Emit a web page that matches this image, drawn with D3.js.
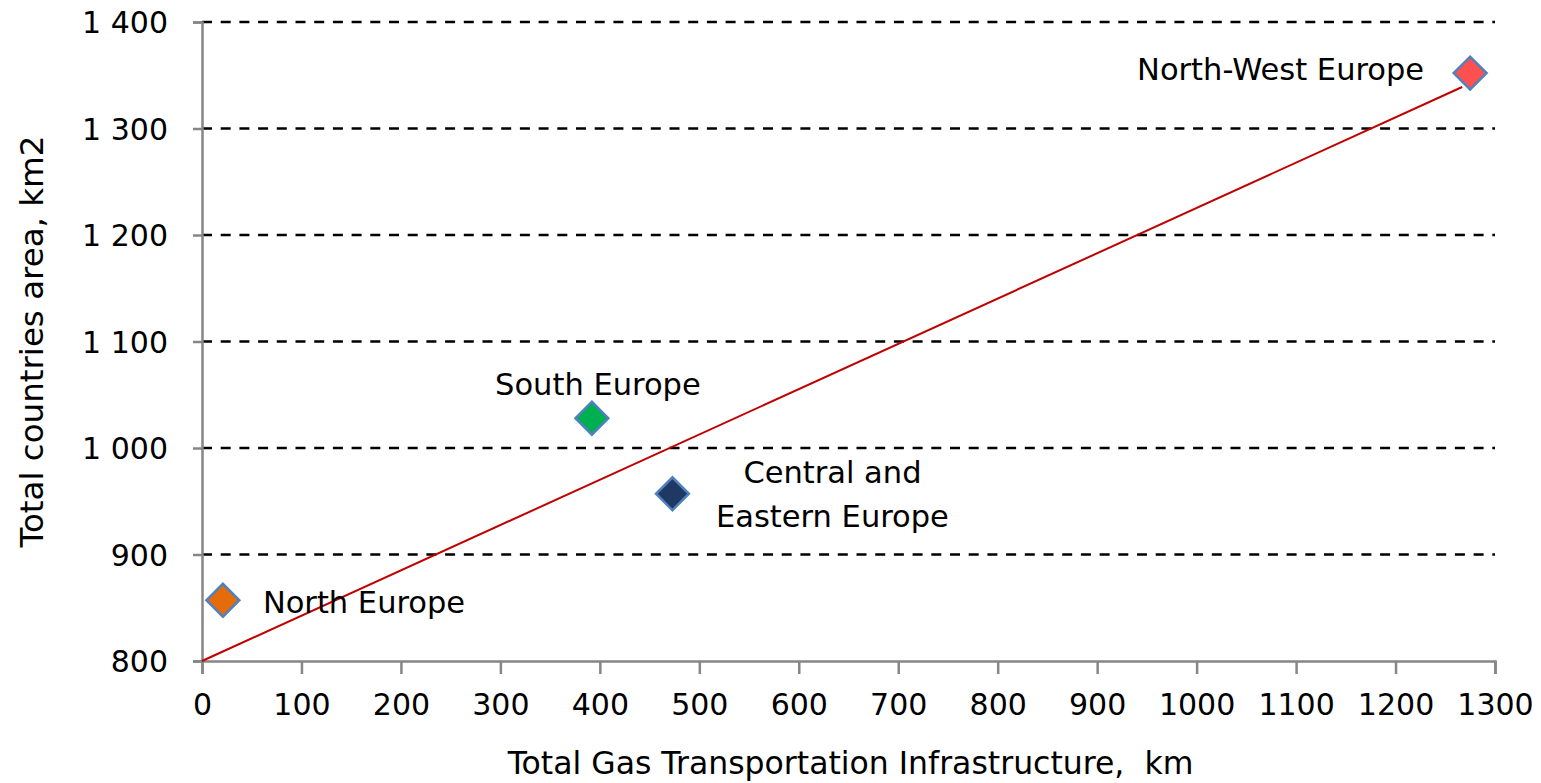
<!DOCTYPE html>
<html>
<head>
<meta charset="utf-8">
<script src="https://cdnjs.cloudflare.com/ajax/libs/d3/7.8.5/d3.min.js"></script>
<style>
  body { margin: 0; background: #fff; }
  .chart-container svg { display: block; font-family: "DejaVu Sans", Verdana, sans-serif; }
</style>
</head>
<body>
<div class="chart-container"></div>
<script>
// data
var regions = ['North Europe', 'South Europe', 'Central and Eastern Europe', 'North-West Europe'];
var pipelineKm = [21, 392, 473, 1275];
var areaKm2 = [857, 1028, 957, 1352];
var markerColors = ['#E46C0A', '#00B050', '#1F3864', '#FF5050'];
var labelLines = [['North Europe'], ['South Europe'], ['Central and', 'Eastern Europe'], ['North-West Europe']];
var trendX = [0, 1267];
var trendY = [800, 1339];
var xTicks = [0, 100, 200, 300, 400, 500, 600, 700, 800, 900, 1000, 1100, 1200, 1300];
var yTicks = [800, 900, 1000, 1100, 1200, 1300, 1400];

var scatterTM = {
  mainSelect: '.chart-container',
  width: 1541,
  height: 783,
  plot: { left: 202, right: 1495, top: 22, bottom: 661 },
  // label anchor offsets from the marker, in px
  labelPos: [
    { dx: 40, dy: 4, anchor: 'start' },
    { dx: 6, dy: -32, anchor: 'middle' },
    { dx: 160, dy: -20, anchor: 'middle' },
    { dx: -46, dy: -2, anchor: 'end' }
  ],
  makeChart(){
    d3.select(scatterTM.mainSelect).selectAll('svg').remove();
    var p = scatterTM.plot;
    var svg = d3.select(scatterTM.mainSelect).append('svg')
      .attr('width', scatterTM.width)
      .attr('height', scatterTM.height);

    var x = d3.scaleLinear().domain([0, 1300]).range([p.left, p.right]);
    var y = d3.scaleLinear().domain([800, 1400]).range([p.bottom, p.top]);

    // dashed grid
    svg.append('g').selectAll('line')
      .data(yTicks.filter(function(t){ return t > 800; }))
      .join('line')
      .attr('x1', p.left).attr('x2', p.right)
      .attr('y1', function(d){ return y(d); })
      .attr('y2', function(d){ return y(d); })
      .attr('stroke', '#000')
      .attr('stroke-width', 2.5)
      .attr('stroke-dasharray', '10,8.7');

    // axes
    var xAxis = d3.axisBottom(x).tickValues(xTicks).tickSize(13).tickPadding(20).tickFormat(d3.format('d'));
    var gx = svg.append('g').attr('transform', 'translate(0,' + p.bottom + ')').call(xAxis);
    var yAxis = d3.axisLeft(y).tickValues(yTicks).tickSize(9).tickPadding(25)
      .tickFormat(function(d){ return d3.format(',')(d).replace(',', ' '); });
    var gy = svg.append('g').attr('transform', 'translate(' + p.left + ',0)').call(yAxis);

    [gx, gy].forEach(function(g){
      g.select('.domain').attr('stroke', '#868686').attr('stroke-width', 2.5);
      g.selectAll('.tick line').attr('stroke', '#868686').attr('stroke-width', 2.5);
      g.selectAll('.tick text').attr('fill', '#000').style('font-size', '30px')
        .style('font-family', '"DejaVu Sans", Verdana, sans-serif');
    });
    gx.selectAll('.tick text').attr('dy', '0.71em');
    gy.selectAll('.tick text').attr('dy', '0.36em');

    // trend line
    svg.append('line')
      .attr('x1', x(trendX[0])).attr('y1', y(trendY[0]))
      .attr('x2', x(trendX[1])).attr('y2', y(trendY[1]))
      .attr('stroke', '#C00000')
      .attr('stroke-width', 2);

    // markers
    var diamond = d3.symbol().type(d3.symbolSquare).size(540);
    svg.append('g').selectAll('path')
      .data(regions)
      .join('path')
      .attr('d', diamond)
      .attr('transform', function(d, i){
        return 'translate(' + x(pipelineKm[i]) + ',' + y(areaKm2[i]) + ') rotate(45)';
      })
      .attr('fill', function(d, i){ return markerColors[i]; })
      .attr('stroke', '#4F81BD')
      .attr('stroke-width', 2.5);

    // data labels
    var labels = svg.append('g').selectAll('text')
      .data(regions)
      .join('text')
      .attr('x', function(d, i){ return x(pipelineKm[i]) + scatterTM.labelPos[i].dx; })
      .attr('y', function(d, i){ return y(areaKm2[i]) + scatterTM.labelPos[i].dy; })
      .attr('text-anchor', function(d, i){ return scatterTM.labelPos[i].anchor; })
      .attr('dominant-baseline', 'middle')
      .style('font-size', '30.5px')
      .attr('fill', '#000');
    labels.each(function(d, i){
      var t = d3.select(this);
      labelLines[i].forEach(function(line, k){
        t.append('tspan')
          .attr('x', t.attr('x'))
          .attr('dy', k === 0 ? 0 : 44)
          .text(line);
      });
    });

    // axis titles
    svg.append('text')
      .attr('x', (p.left + p.right) / 2 + 2)
      .attr('y', 765)
      .attr('text-anchor', 'middle')
      .attr('dominant-baseline', 'middle')
      .style('font-size', '31.5px')
      .attr('xml:space', 'preserve')
      .text('Total Gas Transportation Infrastructure,  km');
    svg.append('text')
      .attr('transform', 'translate(34,' + ((p.top + p.bottom) / 2) + ') rotate(-90)')
      .attr('text-anchor', 'middle')
      .attr('dominant-baseline', 'middle')
      .style('font-size', '32.5px')
      .text('Total countries area, km2');
  }
};

document.addEventListener('DOMContentLoaded', function(event) {
  scatterTM.makeChart();
});
</script>
</body>
</html>
